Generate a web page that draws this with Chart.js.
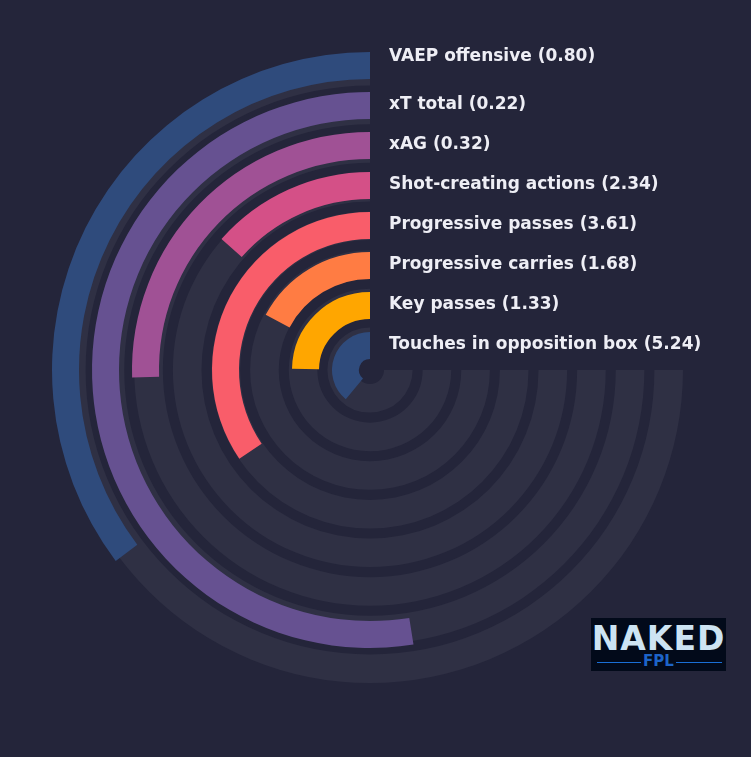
<!DOCTYPE html>
<html>
<head>
<meta charset="utf-8">
<script src="https://cdn.jsdelivr.net/npm/chart.js@4.4.1/dist/chart.umd.min.js"></script>
<style>
  html, body { margin:0; padding:0; background:#24253a; }
  #wrap { position:relative; width:751px; height:757px; background:#24253a; overflow:hidden; }
  .layer { position:absolute; left:0; top:0; width:751px; height:757px; }
  #logo { position:absolute; left:591px; top:618px; width:135px; height:53px; background:#020a1a; font-family:'DejaVu Sans', sans-serif; }
  #logo .big { position:absolute; left:0; top:1px; width:135px; text-align:center; font-size:33px; font-weight:bold; color:#cde4f3; letter-spacing:1px; }
  #logo .small { position:absolute; left:0; top:34px; width:135px; text-align:center; font-size:15px; font-weight:bold; color:#1d64c8; }
  #logo .ln { position:absolute; top:44px; height:1px; background:#1a6fd6; }
</style>
</head>
<body>
<div id="wrap">
  <div class="layer"><canvas id="trackChart"></canvas></div>
  <div class="layer"><canvas id="barChart"></canvas></div>
  <div id="logo">
    <div class="big">NAKED</div>
    <div class="ln" style="left:6px;width:44px"></div>
    <div class="small">FPL</div>
    <div class="ln" style="left:85px;width:46px"></div>
  </div>
</div>
<script>
'use strict';

// metrics, outermost ring first
const metrics = ['VAEP offensive','xT total','xAG','Shot-creating actions','Progressive passes','Progressive carries','Key passes','Touches in opposition box'];
const rawValues = [0.80, 0.22, 0.32, 2.34, 3.61, 1.68, 1.33, 5.24];
const percentiles = [47, 70, 34, 18, 46, 23, 33, 52];
const barColors = ['#2f4b7c','#665191','#a05195','#d45087','#f95d6a','#ff7c43','#ffa600','#2f4b7c'];

const BG = '#24253a', TRACK = '#2f3044', NONE = 'rgba(0,0,0,0)';
const PAD = { left:52, top:52, right:63, bottom:69 };   // puts the centre at 370,370, radius 318

const common = {
    type:'doughnut',
    options:{
        responsive:true, maintainAspectRatio:false, animation:false, events:[],
        rotation:90, circumference:270,
        layout:{ padding:PAD },
        plugins:{ legend:{ display:false }, tooltip:{ enabled:false } },
        elements:{ arc:{ borderWidth:0, hoverOffset:0 } }
    }
};

// ring builder: a spacer before every ring except the first
function rings(list, ringW, gapW, firstGap){
    const out = [];
    if (firstGap) out.push({ data:[1], backgroundColor:[NONE], weight:firstGap });
    list.forEach((r, i) => {
        if (i > 0) out.push({ data:[1], backgroundColor:[NONE], weight:gapW });
        out.push(Object.assign({ weight:ringW }, r));
    });
    return out;
}

// background tracks
new Chart(document.getElementById('trackChart'), {
    ...common,
    data:{ datasets: rings(metrics.map(() => ({ data:[100], backgroundColor:[TRACK] })), 28.6, 10, 5) },
    options:{ ...common.options, cutout:14 }
});

const labelPlugin = {
    id:'ringLabels',
    afterDraw(chart){
        const ctx = chart.ctx;
        const ringMetas = chart.getSortedVisibleDatasetMetas().filter(m => m._dataset.metric !== undefined);
        ctx.save();
        ctx.fillStyle = '#eeeef5';
        ctx.font = 'bold 17px "DejaVu Sans", sans-serif';
        ctx.textBaseline = 'middle';
        ctx.textAlign = 'left';
        ringMetas.forEach(m => {
            const arc = m.data[1];
            const i = m._dataset.metric;
            const mid = (arc.outerRadius + arc.innerRadius) / 2;
            const nudge = i === 0 ? 9 : 1;
            ctx.fillText(metrics[i] + ' (' + rawValues[i].toFixed(2) + ')', arc.x + 19, arc.y - mid - nudge);
        });
        ctx.restore();
    }
};

// percentile bars, drawn clockwise from 3 o'clock so each bar ends at 12 o'clock
new Chart(document.getElementById('barChart'), {
    ...common,
    data:{ datasets: rings(percentiles.map((p, i) => ({
        metric:i,
        data:[100 - p, p],
        backgroundColor:[NONE, barColors[i]]
    })), 27, 13, 0) },
    options:{ ...common.options, cutout:11 },
    plugins:[labelPlugin]
});
</script>
</body>
</html>
